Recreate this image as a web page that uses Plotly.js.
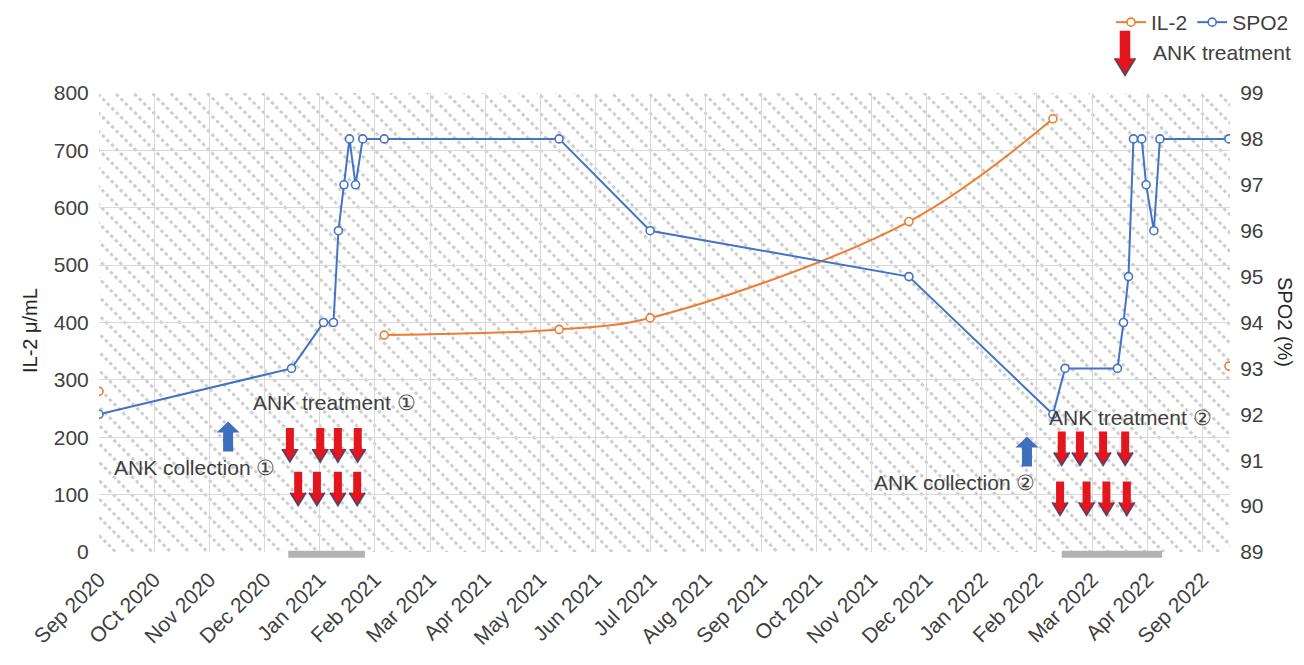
<!DOCTYPE html>
<html><head><meta charset="utf-8">
<script src="https://cdn.plot.ly/plotly-3.0.1.min.js"></script>
<style>html,body{margin:0;padding:0;background:#fff}#chart{width:1304px;height:665px}</style>
</head><body><div id="chart"></div>
<script>
// ---- data (x = month index on the category axis) ----
const xTickLabels = ['Sep 2020','OCt 2020','Nov 2020','Dec 2020','Jan 2021','Feb 2021','Mar 2021','Apr 2021','May 2021','Jun 2021','Jul 2021','Aug 2021','Sep 2021','Oct 2021','Nov 2021','Dec 2021','Jan 2022','Feb 2022','Mar 2022','Apr 2022','Sep 2022'];
const sampleX = [0, 3.49, 4.07, 4.25, 4.34, 4.44, 4.54, 4.65, 4.78, 5.17, 8.34, 9.99, 14.68, 17.29, 17.51, 18.46, 18.57, 18.66, 18.75, 18.90, 18.98, 19.12, 19.23, 20.48];
const spo2 = [92, 93, 94, 94, 96, 97, 98, 97, 98, 98, 98, 96, 95, 92, 93, 93, 94, 95, 98, 98, 97, 96, 98, 98];
const il2 = [280, null, null, null, null, null, null, null, null, 378, 388, 408, 576, 755, null, null, null, null, null, null, null, null, null, 324];
const treat1TopX = [3.46, 4.01, 4.33, 4.69];
const treat1BottomX = [3.61, 3.95, 4.33, 4.68];
const treat2TopX = [17.45, 17.78, 18.20, 18.60];
const treat2BottomX = [17.42, 17.90, 18.26, 18.63];
const collectionX = [2.34, 16.82];
const treatPeriods = [[3.43, 4.82], [17.45, 19.27]];

// ---- styling ----
const TXT = '#404040';
const FONT = 'Liberation Sans, Arial, sans-serif';
const BLUE = '#4472C4', ORANGE = '#ED7D31', RED = '#E3161E';

const W = 1304, H = 665, ML = 99, MR = 74, MT = 92.5, MB = 112.5;
const PW = W - ML - MR, PH = H - MT - MB;

const svgPat = `<svg xmlns="http://www.w3.org/2000/svg" width="${PW}" height="${PH}">
<defs><pattern id="p" width="6.4" height="13" patternUnits="userSpaceOnUse" patternTransform="rotate(45)">
<rect width="6.4" height="13" fill="#ffffff"/><rect x="0" y="0" width="3.4" height="3" fill="#cdcdcd"/>
</pattern></defs><rect width="${PW}" height="${PH}" fill="url(#p)"/></svg>`;
const patURI = 'data:image/svg+xml;charset=utf-8,' + encodeURIComponent(svgPat);

function downArrow(x, y, xref, yref, s) {
  const hw = 4*s, hh = 8*s, L = 34*s, hl = 13*s;
  const body = `M ${-hw},0 L ${hw},0 L ${hw},${-(L-hl)} L ${hh},${-(L-hl)} L 0,${-L} L ${-hh},${-(L-hl)} L ${-hw},${-(L-hl)} Z`;
  const edge = `M ${-hh},${-(L-hl)} L 0,${-L} L ${hh},${-(L-hl)}`;
  return [
    {type:'path', xref, yref, xsizemode:'pixel', ysizemode:'pixel', xanchor:x, yanchor:y, path:body, fillcolor:RED, line:{width:0}},
    {type:'path', xref, yref, xsizemode:'pixel', ysizemode:'pixel', xanchor:x, yanchor:y, path:edge, line:{color:'rgba(50,65,110,0.85)', width:1.6}}
  ];
}
function upArrow(x, y) {
  const path = 'M -5,0 L 5,0 L 5,19 L 11.5,19 L 0,30 L -11.5,19 L -5,19 Z';
  return {type:'path', xref:'x', yref:'y', xsizemode:'pixel', ysizemode:'pixel', xanchor:x, yanchor:y, path, fillcolor:'#3F6FBF', line:{width:0}};
}

let shapes = [];
treatPeriods.forEach(p => shapes.push({type:'line', xref:'x', yref:'paper', x0:p[0], x1:p[1], y0:-0.005, y1:-0.005, line:{color:'#b3b3b3', width:7}}));
treat1TopX.forEach(x => shapes.push(...downArrow(x, 216, 'x', 'y', 1)));
treat1BottomX.forEach(x => shapes.push(...downArrow(x, 140, 'x', 'y', 1)));
treat2TopX.forEach(x => shapes.push(...downArrow(x, 210, 'x', 'y', 1)));
treat2BottomX.forEach(x => shapes.push(...downArrow(x, 123, 'x', 'y', 1)));
shapes.push(upArrow(collectionX[0], 175));
shapes.push(upArrow(collectionX[1], 149));
shapes.push(...downArrow((1125-ML)/PW, 1 + (MT-30)/PH, 'paper', 'paper', 1.32));

const traces = [
  {x: sampleX, y: il2, name:'IL-2', type:'scatter', mode:'lines+markers', yaxis:'y', connectgaps:false,
   line:{color:ORANGE, width:2, shape:'spline', smoothing:1},
   marker:{symbol:'circle', size:8, color:'#ffffff', line:{color:ORANGE, width:1.6}}},
  {x: sampleX, y: spo2, name:'SPO2', type:'scatter', mode:'lines+markers', yaxis:'y2',
   line:{color:BLUE, width:2},
   marker:{symbol:'circle', size:8, color:'#ffffff', line:{color:BLUE, width:1.6}}}
];

const annFont = {family:FONT, size:21, color:TXT};
const ann = (o) => Object.assign({showarrow:false, xanchor:'center', yanchor:'middle', font:annFont}, o);
const layout = {
  width:W, height:H,
  margin:{l:ML, r:MR, t:MT, b:MB, pad:0, autoexpand:false},
  paper_bgcolor:'#ffffff', plot_bgcolor:'rgba(0,0,0,0)',
  font:{family:FONT, size:21, color:TXT},
  showlegend:true,
  legend:{orientation:'h', xref:'container', yref:'container', x:1294/W, xanchor:'right', y:1 - 2/H, yanchor:'top',
          font:{family:FONT, size:21, color:TXT}, bgcolor:'rgba(0,0,0,0)', itemwidth:30, tracegroupgap:0},
  xaxis:{range:[0, 20.5], tickmode:'array', tickvals:xTickLabels.map((_, i) => i), ticktext:xTickLabels,
         tickangle:-45, showgrid:true, gridcolor:'#d9d9d9', gridwidth:1, zeroline:false, showline:false,
         ticks:'outside', ticklen:6, tickcolor:'rgba(0,0,0,0)', tickfont:{family:FONT, size:21, color:TXT}, fixedrange:true},
  yaxis:{range:[0, 800], dtick:100, showgrid:true, gridcolor:'#d9d9d9', gridwidth:1, zeroline:false, showline:false,
         ticks:'outside', ticklen:5, tickcolor:'rgba(0,0,0,0)', tickfont:{family:FONT, size:21, color:TXT}},
  yaxis2:{range:[89, 99], dtick:1, overlaying:'y', side:'right', showgrid:false, zeroline:false, showline:false,
          ticks:'outside', ticklen:5, tickcolor:'rgba(0,0,0,0)', tickfont:{family:FONT, size:21, color:TXT}},
  images:[{source:patURI, xref:'paper', yref:'paper', x:0, y:1, sizex:1, sizey:1, sizing:'stretch', xanchor:'left', yanchor:'top', layer:'below'}],
  shapes,
  annotations:[
    ann({xref:'paper', yref:'paper', x:(30-ML)/PW, y:(H-MB-331)/PH, text:'IL-2 μ/mL', textangle:-90, font:{family:FONT, size:20, color:'#262626'}}),
    ann({xref:'paper', yref:'paper', x:(1285-ML)/PW, y:(H-MB-322)/PH, text:'SPO2 (%)', textangle:90, font:{family:FONT, size:20, color:'#262626'}}),
    ann({xref:'x', yref:'y', x:4.26, y:260, text:'ANK treatment ①'}),
    ann({xref:'x', yref:'y', x:1.73, y:147, text:'ANK collection ①'}),
    ann({xref:'x', yref:'y', x:18.70, y:234, text:'ANK treatment ②'}),
    ann({xref:'x', yref:'y', x:15.5, y:121, text:'ANK collection ②'}),
    ann({xref:'paper', yref:'paper', x:(1293-ML)/PW, y:1+(MT-52)/PH, xanchor:'right', text:'ANK treatment'})
  ]
};

Plotly.newPlot('chart', traces, layout, {displayModeBar:false, staticPlot:true});
</script></body></html>
